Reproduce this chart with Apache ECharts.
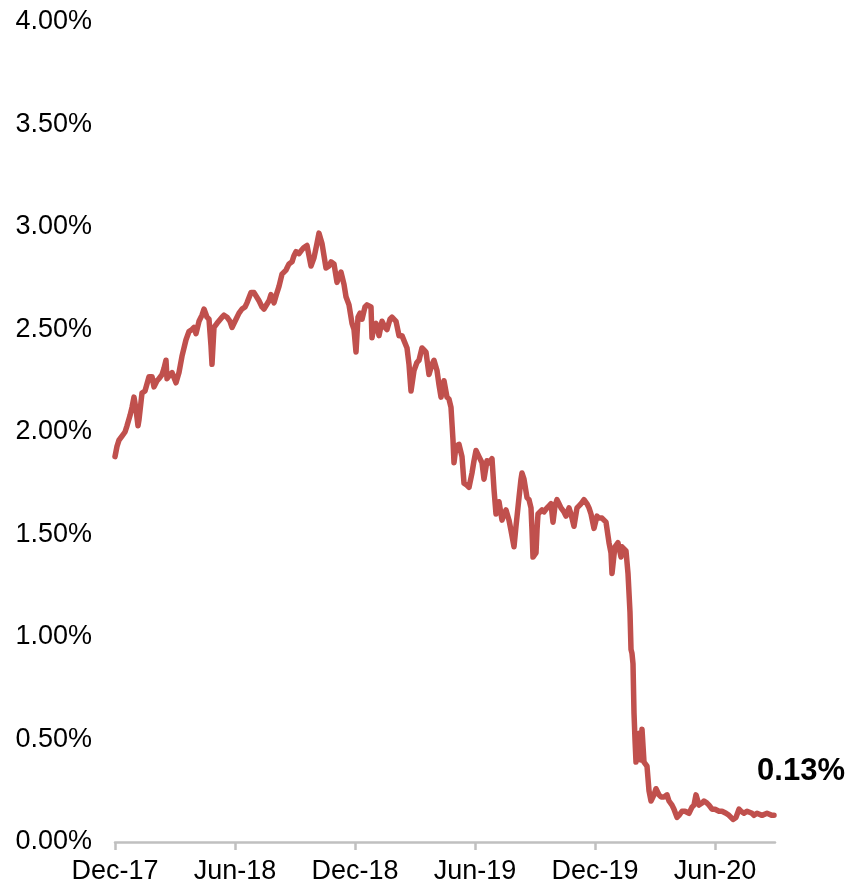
<!DOCTYPE html>
<html>
<head>
<meta charset="utf-8">
<script src="https://cdn.jsdelivr.net/npm/echarts@6/dist/echarts.min.js"></script>
<style>
html,body{margin:0;padding:0;background:#fff;}
#chart{width:852px;height:888px;}
</style>
</head>
<body>
<div id="chart"></div>
<script>
// x position in months since Dec-17
var months = [
0,0.1,0.2,0.35,0.5,0.6,0.75,0.85,0.95,1.05,1.15,1.2,1.35,1.5,1.6,1.7,1.85,1.95,2.1,2.2,
2.35,2.45,2.55,2.6,2.75,2.85,3.05,3.2,3.35,3.55,3.7,3.85,3.95,4.05,4.2,4.35,4.45,4.6,4.7,4.8,
4.85,4.95,5.1,5.2,5.35,5.45,5.6,5.75,5.85,6.05,6.2,6.35,6.5,6.6,6.8,6.95,7.05,7.2,7.35,7.45,
7.55,7.7,7.8,7.95,8.1,8.2,8.35,8.55,8.7,8.85,8.95,9.05,9.2,9.35,9.45,9.6,9.7,9.8,9.95,10.1,
10.2,10.35,10.45,10.55,10.7,10.8,10.95,11.1,11.3,11.45,11.55,11.7,11.85,11.95,12.05,12.15,12.25,12.35,12.5,12.6,
12.8,12.85,12.95,13.05,13.2,13.35,13.5,13.6,13.75,13.85,14.05,14.2,14.35,14.45,14.6,14.7,14.8,14.95,15.1,15.2,
15.35,15.45,15.55,15.7,15.85,15.95,16.1,16.2,16.3,16.45,16.6,16.7,16.8,16.9,16.95,17.05,17.2,17.35,17.45,17.6,
17.7,17.85,17.95,18.05,18.2,18.35,18.45,18.6,18.7,18.85,18.95,19.05,19.2,19.35,19.45,19.55,19.7,19.8,19.95,20.05,
20.2,20.3,20.35,20.45,20.6,20.7,20.8,20.85,20.9,21.05,21.1,21.15,21.35,21.45,21.6,21.7,21.8,21.9,22.0,22.1,
22.2,22.3,22.45,22.55,22.7,22.8,22.95,23.1,23.2,23.3,23.45,23.6,23.7,23.8,23.95,24.1,24.2,24.35,24.55,24.7,
24.8,24.85,24.95,25.0,25.15,25.3,25.35,25.45,25.55,25.65,25.75,25.8,25.85,25.9,25.95,26.0,26.05,26.15,26.2,26.3,
26.35,26.45,26.6,26.7,26.8,26.85,26.95,27.05,27.2,27.3,27.45,27.6,27.7,27.85,27.95,28.1,28.2,28.35,28.5,28.7,
28.85,28.95,29.05,29.2,29.35,29.45,29.6,29.7,29.85,30.0,30.2,30.35,30.55,30.7,30.8,30.9,31.05,31.2,31.3,31.45,
31.6,31.7,31.85,31.95,32.1,32.2,32.35,32.45,32.6,32.7,32.85,32.95
];
// yield, percent
var yields = [
1.88,1.93,1.96,1.98,2.00,2.03,2.08,2.12,2.17,2.11,2.03,2.06,2.19,2.20,2.20,2.27,2.27,2.22,2.25,2.26,
2.28,2.31,2.35,2.26,2.28,2.29,2.24,2.29,2.37,2.45,2.49,2.50,2.51,2.48,2.54,2.57,2.60,2.56,2.55,2.42,
2.33,2.51,2.53,2.53,2.56,2.57,2.56,2.54,2.51,2.55,2.58,2.60,2.61,2.63,2.68,2.68,2.68,2.64,2.61,2.60,
2.60,2.64,2.67,2.63,2.68,2.71,2.77,2.79,2.82,2.83,2.86,2.88,2.87,2.89,2.90,2.91,2.86,2.81,2.85,2.92,
2.97,2.92,2.86,2.80,2.81,2.83,2.82,2.73,2.78,2.72,2.66,2.62,2.53,2.50,2.39,2.56,2.58,2.55,2.61,2.62,
2.61,2.46,2.52,2.53,2.47,2.54,2.51,2.50,2.55,2.56,2.54,2.47,2.47,2.47,2.41,2.33,2.20,2.30,2.34,2.35,
2.41,2.40,2.39,2.28,2.33,2.35,2.30,2.23,2.17,2.25,2.17,2.16,2.12,1.96,1.85,1.93,1.94,1.88,1.75,1.74,
1.73,1.80,1.86,1.91,1.88,1.85,1.77,1.86,1.85,1.87,1.72,1.60,1.66,1.57,1.60,1.62,1.57,1.52,1.44,1.54,
1.68,1.77,1.80,1.77,1.68,1.67,1.63,1.52,1.39,1.41,1.52,1.60,1.62,1.61,1.63,1.64,1.65,1.56,1.64,1.67,
1.65,1.63,1.61,1.59,1.63,1.60,1.54,1.63,1.64,1.65,1.67,1.65,1.63,1.60,1.53,1.59,1.58,1.58,1.56,1.46,
1.41,1.31,1.40,1.44,1.46,1.39,1.44,1.43,1.42,1.31,1.12,0.94,0.92,0.87,0.63,0.50,0.39,0.47,0.53,0.40,
0.55,0.39,0.37,0.25,0.20,0.20,0.23,0.26,0.23,0.22,0.22,0.23,0.20,0.18,0.16,0.12,0.13,0.15,0.15,0.14,
0.17,0.18,0.23,0.18,0.19,0.20,0.19,0.18,0.16,0.16,0.15,0.15,0.14,0.13,0.12,0.11,0.12,0.16,0.15,0.14,
0.15,0.15,0.14,0.13,0.14,0.14,0.13,0.13,0.14,0.14,0.13,0.13
];
var tickMonths = [0, 6, 12, 18, 24, 30];
var tickLabels = ['Dec-17', 'Jun-18', 'Dec-18', 'Jun-19', 'Dec-19', 'Jun-20'];

var data = months.map(function (m, i) { return [m, yields[i]]; });
var last = data[data.length - 1];

var chart = echarts.init(document.getElementById('chart'));
var font = 'Liberation Sans, Arial, sans-serif';
chart.setOption({
  animation: false,
  backgroundColor: '#ffffff',
  grid: { left: 115, right: 77, top: 22, bottom: 46, containLabel: false },
  xAxis: {
    type: 'value',
    min: 0,
    max: 33,
    splitLine: { show: false },
    axisLine: { show: true, lineStyle: { color: '#c0c0c0', width: 2.5 } },
    axisTick: { show: true, length: 8, lineStyle: { color: '#c0c0c0', width: 2.5 }, customValues: tickMonths },
    axisLabel: {
      customValues: tickMonths,
      margin: 16,
      color: '#000',
      fontFamily: font,
      fontSize: 27,
      formatter: function (v) {
        var i = tickMonths.indexOf(v);
        return i >= 0 ? tickLabels[i] : '';
      }
    }
  },
  yAxis: {
    type: 'value',
    min: 0,
    max: 4,
    interval: 0.5,
    splitLine: { show: false },
    axisLine: { show: false },
    axisTick: { show: false },
    axisLabel: {
      margin: 23,
      color: '#000',
      fontFamily: font,
      fontSize: 27,
      formatter: function (v) { return v.toFixed(2) + '%'; }
    }
  },
  series: [{
    type: 'line',
    data: data,
    symbol: 'none',
    smooth: false,
    clip: false,
    lineStyle: { color: '#C0504D', width: 5.5, join: 'round', cap: 'round' },
    markPoint: {
      symbol: 'circle',
      symbolSize: 0,
      data: [{ coord: last }],
      label: {
        show: true,
        formatter: function () { return last[1].toFixed(2) + '%'; },
        color: '#000',
        fontFamily: font,
        fontWeight: 'bold',
        fontSize: 31,
        offset: [27, -44]
      }
    }
  }]
});
</script>
</body>
</html>
